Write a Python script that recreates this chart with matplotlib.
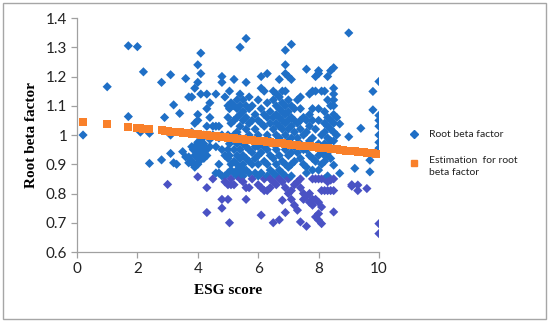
import matplotlib
matplotlib.use("Agg")
import matplotlib.pyplot as plt
from matplotlib.lines import Line2D
from matplotlib.patches import Rectangle

# ---- data ----
column_x = [0.2, 1.0, 1.7, 2.0, 2.1, 2.2, 2.4, 2.8, 2.9, 3.0, 3.1, 3.2, 3.3, 3.4, 3.5, 3.6,
            3.7, 3.8, 3.85, 3.9, 4.0, 4.05, 4.1, 4.15, 4.2, 4.3, 4.4, 4.5, 4.6, 4.7, 4.8, 4.9,
            5.0, 5.05, 5.1, 5.2, 5.3, 5.4, 5.5, 5.6, 5.7, 5.8, 5.9, 6.0, 6.1, 6.2, 6.3, 6.4,
            6.5, 6.6, 6.7, 6.8, 6.9, 7.0, 7.1, 7.2, 7.3, 7.4, 7.5, 7.6, 7.7, 7.8, 7.9, 8.0,
            8.1, 8.2, 8.3, 8.4, 8.5, 8.6, 8.7, 9.0, 9.1, 9.2, 9.3, 9.4, 9.6, 9.7, 9.8, 10.0]
column_y = [
    [1.0], [1.165], [1.305, 1.063], [1.302], [1.01], [1.216], [0.903, 1.006],
    [1.18, 0.915], [1.06], [0.831], [1.206, 0.937, 1.0], [1.103, 0.905], [0.90],
    [1.074], [0.943], [1.193, 0.925],
    [1.13, 0.905, 0.925], [0.91, 0.96, 1.01, 1.13], [0.90, 0.95],
    [0.96, 0.93, 0.89, 1.04, 1.16],
    [0.96, 0.94, 0.92, 0.90, 0.975, 1.0, 1.07, 1.05, 1.24, 1.18, 0.857],
    [0.95, 0.97, 0.93, 0.91],
    [0.94, 0.96, 0.98, 0.92, 1.28, 1.21, 1.14],
    [0.95, 0.93, 0.99],
    [0.94, 0.96, 0.97, 0.92, 1.0],
    [0.95, 0.93, 0.82, 0.735, 1.03, 1.09, 1.14],
    [1.06, 1.11, 0.985, 0.96],
    [1.03, 0.85, 1.0],
    [1.14, 1.03, 0.87, 0.96],
    [1.03, 0.90, 0.87, 0.99],
    [1.2, 1.18, 0.78, 0.75, 0.95, 0.86, 1.0],
    [1.13, 0.86, 0.84, 0.93],
    [1.1, 1.06, 1.0, 0.95, 0.92, 0.87, 0.83, 0.78],
    [1.15, 1.09, 0.97, 0.93, 0.70],
    [1.11, 1.04, 0.99, 0.90, 0.88, 0.85, 0.83],
    [1.19, 1.10, 1.05, 1.0, 0.95, 0.91, 0.87, 0.83],
    [1.12, 1.09, 1.06, 1.01, 0.97, 0.93, 0.90, 0.88, 0.86],
    [1.30, 1.14, 1.10, 1.07, 1.03, 0.99, 0.95, 0.92, 0.89, 0.87, 0.85],
    [1.12, 1.08, 1.05, 0.97, 0.93, 0.90, 0.88, 0.86, 0.84],
    [1.33, 1.18, 1.10, 1.06, 1.02, 0.96, 0.92, 0.88, 0.82, 0.78],
    [1.13, 1.09, 1.04, 1.0, 0.95, 0.91, 0.87, 0.82],
    [1.10, 1.05, 0.98, 0.94, 0.90, 0.85],
    [1.07, 1.02, 0.96, 0.92, 0.87],
    [1.12, 1.05, 1.0, 0.96, 0.93, 0.90, 0.86, 0.83],
    [1.20, 1.16, 1.09, 1.04, 0.98, 0.94, 0.87, 0.82, 0.726],
    [1.15, 1.07, 1.03, 0.96, 0.91, 0.85, 0.81],
    [1.21, 1.11, 1.06, 1.0, 0.95, 0.90, 0.86, 0.81],
    [1.08, 1.04, 0.98, 0.93, 0.88, 0.85, 0.82],
    [1.15, 1.12, 1.06, 1.02, 0.97, 0.92, 0.87, 0.84, 0.70],
    [1.14, 1.10, 1.07, 1.04, 1.0, 0.95, 0.90, 0.86, 0.83],
    [1.19, 1.13, 1.09, 1.06, 1.03, 0.99, 0.93, 0.88, 0.85, 0.71],
    [1.15, 1.11, 1.08, 1.05, 1.02, 0.97, 0.91, 0.87, 0.84, 0.777],
    [1.29, 1.24, 1.21, 1.15, 1.10, 1.07, 1.04, 1.0, 0.95, 0.90, 0.86, 0.82, 0.735],
    [1.20, 1.12, 1.08, 1.05, 1.02, 0.98, 0.93, 0.89, 0.85, 0.80],
    [1.31, 1.19, 1.10, 1.06, 1.03, 0.99, 0.94, 0.90, 0.86, 0.81, 0.78],
    [1.09, 1.05, 1.01, 0.96, 0.91, 0.83, 0.76],
    [1.12, 1.04, 0.99, 0.94, 0.84, 0.743],
    [1.13, 1.09, 1.05, 1.02, 0.97, 0.92, 0.85, 0.82, 0.703],
    [1.06, 1.0, 0.95, 0.90, 0.80, 0.78],
    [1.225, 1.05, 1.01, 0.95, 0.89, 0.87, 0.79, 0.688],
    [1.14, 1.07, 1.03, 0.98, 0.93, 0.80, 0.77],
    [1.15, 1.09, 1.05, 0.99, 0.92, 0.88, 0.85, 0.78, 0.76],
    [1.20, 1.15, 1.02, 0.96, 0.91, 0.85, 0.78, 0.72],
    [1.22, 1.21, 1.09, 1.05, 0.97, 0.93, 0.88, 0.85, 0.77, 0.731, 0.709],
    [1.15, 1.0, 0.94, 0.90, 0.85, 0.81, 0.754, 0.697],
    [1.15, 1.08, 1.04, 1.01, 0.97, 0.93, 0.91, 0.85, 0.81],
    [1.20, 1.12, 1.06, 1.03, 0.99, 0.96, 0.93, 0.86, 0.84, 0.81],
    [1.22, 1.10, 1.05, 1.02, 0.98, 0.95, 0.92, 0.846, 0.81],
    [1.23, 1.16, 1.14, 1.12, 1.10, 1.07, 1.04, 1.01, 0.98, 0.897, 0.85, 0.81, 0.737],
    [1.06, 1.0],
    [1.038, 0.869],
    [1.349, 0.994],
    [0.83, 0.825],
    [0.886],
    [0.829, 0.81],
    [1.023],
    [0.817],
    [0.914, 0.874],
    [1.149, 1.086],
    [1.183, 1.067, 1.05, 1.03, 1.0, 0.975, 0.955, 0.697, 0.663],
]

est_x = [0.2, 1.0, 1.7, 2.0, 2.1, 2.2, 2.3, 2.4, 2.8, 2.9, 3.0, 3.1, 3.2, 3.3, 3.4, 3.5,
         3.6, 3.7, 3.8, 3.9, 4.0, 4.1, 4.2, 4.3, 4.4, 4.5, 4.6, 4.7, 4.8, 4.9, 5.0, 5.1,
         5.2, 5.3, 5.4, 5.5, 5.6, 5.7, 5.8, 5.9, 6.0, 6.1, 6.2, 6.3, 6.4, 6.5, 6.6, 6.7,
         6.8, 6.9, 7.0, 7.1, 7.2, 7.3, 7.4, 7.5, 7.6, 7.7, 7.8, 7.9, 8.0, 8.1, 8.2, 8.3,
         8.4, 8.5, 8.6, 8.7, 8.8, 8.9, 9.0, 9.1, 9.2, 9.3, 9.4, 9.5, 9.6, 9.7, 9.8, 9.9, 10.0]
est_y = [1.045, 1.036, 1.028, 1.025, 1.023, 1.022, 1.021, 1.020, 1.016, 1.015, 1.013, 1.012,
         1.011, 1.010, 1.009, 1.008, 1.007, 1.006, 1.004, 1.003, 1.002, 1.001, 1.000, 0.999,
         0.998, 0.997, 0.995, 0.994, 0.993, 0.992, 0.991, 0.990, 0.989, 0.988, 0.987, 0.985,
         0.984, 0.983, 0.982, 0.981, 0.980, 0.979, 0.978, 0.976, 0.975, 0.974, 0.973, 0.972,
         0.971, 0.970, 0.969, 0.967, 0.966, 0.965, 0.964, 0.963, 0.962, 0.961, 0.960, 0.959,
         0.957, 0.956, 0.955, 0.954, 0.953, 0.952, 0.951, 0.950, 0.948, 0.947, 0.946, 0.945,
         0.944, 0.943, 0.942, 0.941, 0.940, 0.938, 0.937, 0.936, 0.935]

x_ticks = [0, 2, 4, 6, 8, 10]
y_ticks = [0.6, 0.7, 0.8, 0.9, 1.0, 1.1, 1.2, 1.3, 1.4]
y_tick_labels = ["0.6", "0.7", "0.8", "0.9", "1", "1.1", "1.2", "1.3", "1.4"]

series_names = ["Root beta factor", "Estimation  for root\nbeta factor"]

# flatten the scatter columns
esg_score, root_beta = [], []
for cx, ys in zip(column_x, column_y):
    for yv in ys:
        esg_score.append(cx)
        root_beta.append(yv)

BLUE = "#1F6FC6"
LOWBLUE = "#4A52C4"
ORANGE = "#F9802A"

fig = plt.figure(figsize=(5.5, 3.24), dpi=100)
ax = fig.add_axes([0.14, 0.2222, 0.549, 0.7222])

cols = [BLUE if v >= 0.86 else LOWBLUE for v in root_beta]
ax.scatter(esg_score, root_beta, marker="D", s=22, c=cols, linewidths=0, zorder=2)
ax.scatter(est_x, est_y, marker="s", s=30, c=ORANGE, linewidths=0, zorder=3)

ax.set_xlim(0, 10)
ax.set_ylim(0.6, 1.4)
ax.set_xticks(x_ticks)
ax.set_yticks(y_ticks)
ax.set_yticklabels(y_tick_labels)

for side in ["top", "right"]:
    ax.spines[side].set_visible(False)
for side in ["left", "bottom"]:
    ax.spines[side].set_color("#A0A0A0")
    ax.spines[side].set_linewidth(0.9)

ax.tick_params(direction="out", length=4, width=0.9, color="#A0A0A0",
               labelsize=11, labelcolor="#222222", pad=3)
for lab in ax.get_xticklabels() + ax.get_yticklabels():
    lab.set_family("Lato")

ax.set_xlabel("ESG score", family="Liberation Serif", fontweight="bold",
              fontsize=11, labelpad=6)
ax.set_ylabel("Root beta factor", family="Liberation Serif", fontweight="bold",
              fontsize=11, labelpad=6)

# legend drawn at the right, outside the axes
fig.add_artist(Line2D([414 / 550], [1 - 134 / 324], transform=fig.transFigure,
                      marker="D", markersize=4.4, color=BLUE, linestyle="none"))
fig.text(429 / 550, 1 - 134 / 324, series_names[0], family="Lato", fontsize=7.5,
         va="center", ha="left", color="#222222")
fig.add_artist(Line2D([414 / 550], [1 - 163 / 324], transform=fig.transFigure,
                      marker="s", markersize=5.0, color=ORANGE, linestyle="none"))
fig.text(429 / 550, 1 - 156 / 324, series_names[1], family="Lato", fontsize=7.5,
         va="top", ha="left", color="#222222", linespacing=1.45)

# outer frame
fig.add_artist(Rectangle((3 / 550, 5 / 324), 543 / 550, 316 / 324,
                         transform=fig.transFigure, fill=False,
                         edgecolor="#A6A6A6", linewidth=1.0))

fig.savefig("out.png", dpi=100)
